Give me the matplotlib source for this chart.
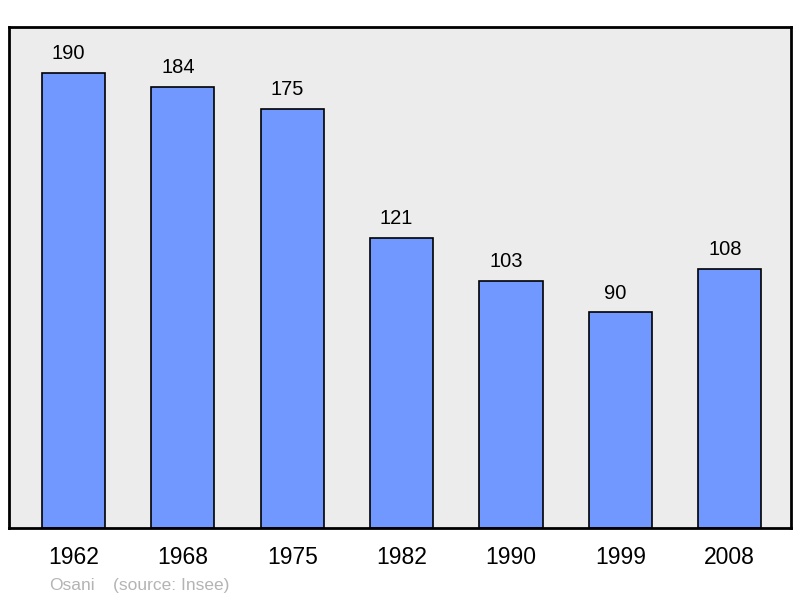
import matplotlib
matplotlib.use("Agg")
from matplotlib import pyplot as plt
import numpy as np

years = ["1962", "1968", "1975", "1982", "1990", "1999", "2008"]
population = [190, 184, 175, 121, 103, 90, 108]
commune = "Osani"
source = "(source: Insee)"

plt.rcParams['font.family'] = ['Liberation Sans', 'DejaVu Sans']

fig = plt.figure(figsize=(8, 5.98), dpi=100)
ax = fig.add_axes([9/800, 1-528/598, 782/800, 501/598])
ax.set_facecolor('#ececec')

xx = np.arange(len(years))
ax.bar(xx, population, width=0.577, color='#7098ff', edgecolor='black', lw=1.2, zorder=2)
for x, v in zip(xx, population):
    ax.annotate(str(v), (x, v), xytext=(-3.6, 10), textcoords='offset points',
                ha='center', va='baseline', fontsize=14.5)

ax.set_xlim(-0.59, 6.56)
ax.set_ylim(0, 209.2)
ax.set_yticks([])
ax.set_xticks(xx)
ax.set_xticklabels(years, fontsize=16.5)
ax.tick_params(axis='x', length=0, pad=13)
for s in ax.spines.values():
    s.set_linewidth(2)

fig.text(49/800, 1-585.5/598, commune, color='#b4b4b4', fontsize=12.5, va='center')
fig.text(113/800, 1-585.5/598, source, color='#b4b4b4', fontsize=12.5, va='center')

fig.savefig("out.png")
